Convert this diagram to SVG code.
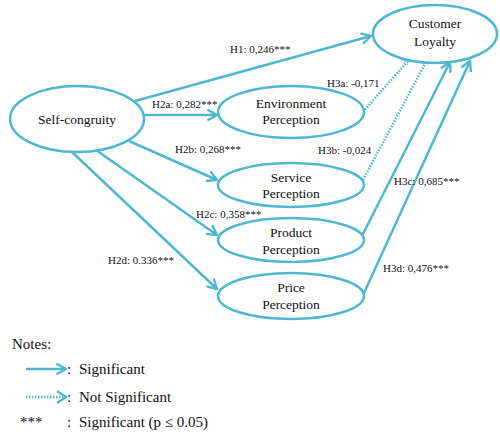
<svg xmlns="http://www.w3.org/2000/svg" width="500" height="436" viewBox="0 0 500 436">
<style>
.n{fill:#fff;stroke:#4fb7cf;stroke-width:2.5}
.c{fill:none;stroke:#4fb7cf;stroke-width:2.5}
.d{fill:none;stroke:#4fb7cf;stroke-width:2.5;stroke-dasharray:1.5 1.5}
.t{font-family:"Liberation Serif","Times New Roman",serif;font-size:13.5px;fill:#111;text-anchor:middle}
.l{font-family:"Liberation Serif","Times New Roman",serif;font-size:11px;fill:#111}
.g{font-family:"Liberation Serif","Times New Roman",serif;font-size:15px;fill:#111}
</style>
<defs>
<marker id="a" markerWidth="12" markerHeight="12" refX="9" refY="5" orient="auto" markerUnits="userSpaceOnUse" viewBox="0 0 10 10">
<path d="M1,0.5 L9,5 L1,9.5" fill="none" stroke="#4fb7cf" stroke-width="2"/>
</marker>
<marker id="s" markerWidth="6" markerHeight="6" refX="5" refY="5" orient="auto" markerUnits="userSpaceOnUse" viewBox="0 0 10 10">
<path d="M1,1 L9,5 L1,9" fill="none" stroke="#4fb7cf" stroke-width="2" stroke-dasharray="1.5 1.5"/>
</marker>
</defs>
<g id="connectors">
<line class="c" x1="135" y1="101" x2="371" y2="36" marker-end="url(#a)"/>
<line class="c" x1="143" y1="115" x2="217" y2="115" marker-end="url(#a)"/>
<line class="c" x1="129" y1="141" x2="217" y2="180" marker-end="url(#a)"/>
<line class="c" x1="96" y1="150" x2="217" y2="235" marker-end="url(#a)"/>
<line class="c" x1="72" y1="152" x2="217" y2="289" marker-end="url(#a)"/>
<line class="d" x1="363" y1="112" x2="407" y2="62" marker-end="url(#s)"/>
<line class="d" x1="363" y1="180" x2="426" y2="62" marker-end="url(#s)"/>
<line class="c" x1="362" y1="236" x2="450" y2="62" marker-end="url(#a)"/>
<line class="c" x1="364" y1="293" x2="470" y2="61" marker-end="url(#a)"/>
</g>
<g id="labels">
<text class="l" x="230" y="53">H1: 0,246***</text>
<text class="l" x="152" y="108">H2a: 0,282***</text>
<text class="l" x="175" y="153">H2b: 0,268***</text>
<text class="l" x="196" y="218">H2c: 0,358***</text>
<text class="l" x="108" y="264">H2d: 0.336***</text>
<text class="l" x="327" y="87">H3a: -0,171</text>
<text class="l" x="318" y="154">H3b: -0,024</text>
<text class="l" x="394" y="185">H3c: 0,685***</text>
<text class="l" x="383" y="272">H3d: 0,476***</text>
</g>
<g id="self-congruity">
<ellipse class="n" cx="77" cy="119" rx="67" ry="33"/>
<text class="t" x="77" y="124">Self-congruity</text>
</g>
<g id="customer-loyalty">
<ellipse class="n" cx="435" cy="34" rx="62" ry="29"/>
<text class="t" x="435" y="28">Customer</text>
<text class="t" x="435" y="46">Loyalty</text>
</g>
<g id="environment">
<ellipse class="n" cx="291" cy="112" rx="73" ry="26"/>
<text class="t" x="291" y="108">Environment</text>
<text class="t" x="291" y="124">Perception</text>
</g>
<g id="service">
<ellipse class="n" cx="291" cy="185" rx="73" ry="22"/>
<text class="t" x="291" y="182">Service</text>
<text class="t" x="291" y="198">Perception</text>
</g>
<g id="product">
<ellipse class="n" cx="291" cy="240" rx="73" ry="22"/>
<text class="t" x="291" y="237">Product</text>
<text class="t" x="291" y="254">Perception</text>
</g>
<g id="price">
<ellipse class="n" cx="291" cy="296" rx="73" ry="23"/>
<text class="t" x="291" y="292">Price</text>
<text class="t" x="291" y="309">Perception</text>
</g>
<g id="legend">
<text class="g" x="12" y="349">Notes:</text>
<line class="c" x1="26" y1="369" x2="66" y2="369" marker-end="url(#a)"/>
<text class="g" x="67" y="374">:</text>
<text class="g" x="79" y="374">Significant</text>
<line class="d" x1="26" y1="397" x2="66" y2="397"/>
<path d="M57,391 L66,397 L57,403" fill="none" stroke="#4fb7cf" stroke-width="2.5"/>
<text class="g" x="67" y="402">:</text>
<text class="g" x="79" y="402">Not Significant</text>
<text class="g" x="20" y="427">***</text>
<text class="g" x="67" y="427">:</text>
<text class="g" x="79" y="427">Significant (p ≤ 0.05)</text>
</g>
</svg>
